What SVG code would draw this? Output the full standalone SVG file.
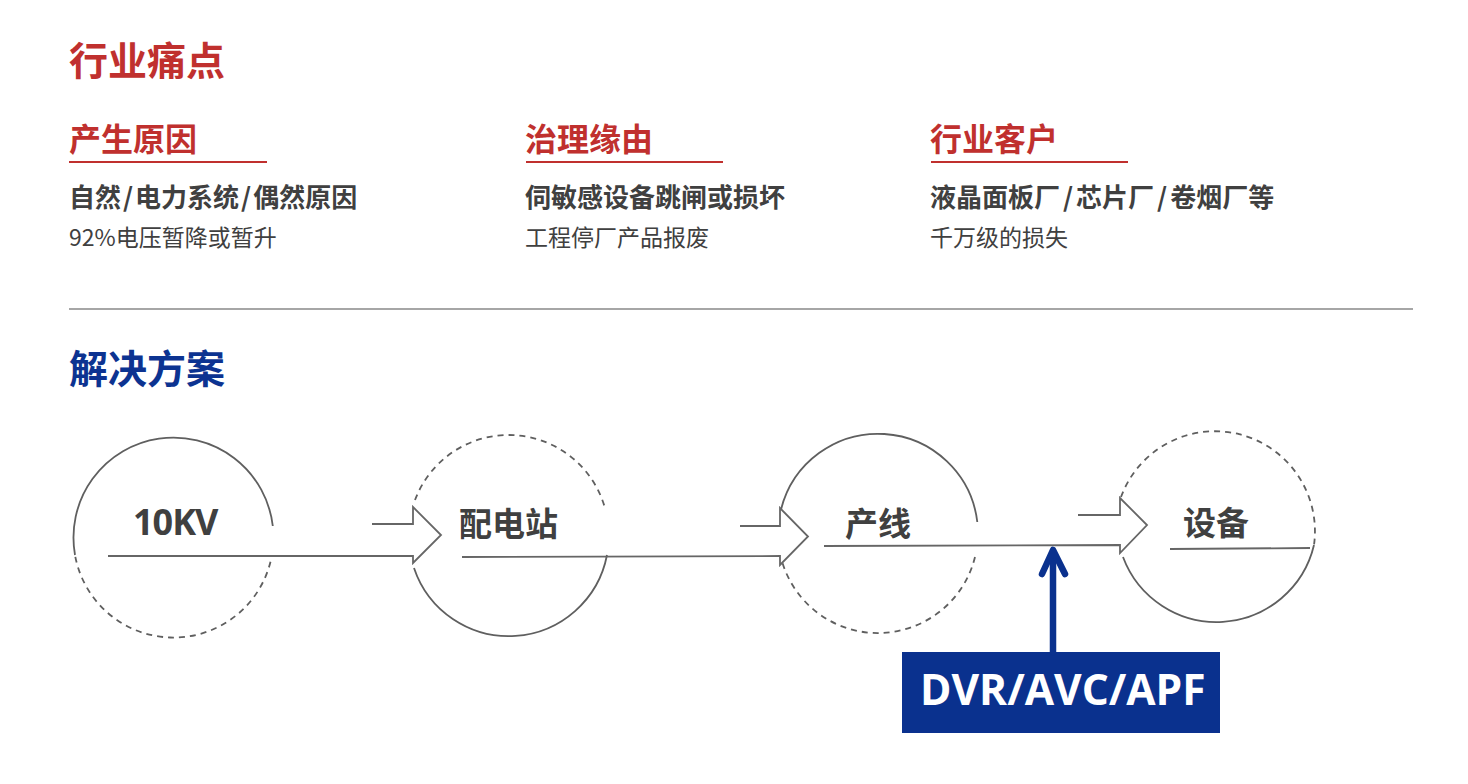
<svg xmlns="http://www.w3.org/2000/svg" width="1468" height="784" viewBox="0 0 1468 784">
<style>
.cjk{font-family:"Noto Sans CJK SC","Noto Sans",sans-serif}
.lat{font-family:"Open Sans","Noto Sans CJK SC",sans-serif}
.b{font-weight:bold}
.red{fill:#c0302e}
.blue{fill:#0c3391}
.dark{fill:#404040}
.uline{stroke:#c0302e;stroke-width:2}
.solid{fill:none;stroke:#5f5f5f;stroke-width:1.8}
.dash{fill:none;stroke:#5f5f5f;stroke-width:1.8;stroke-dasharray:6 5}
.conn{fill:none;stroke:#666;stroke-width:1.8;stroke-linejoin:miter}
</style>
<rect width="1468" height="784" fill="#ffffff"/>
<g id="header">
<text x="69" y="75" class="cjk b red" font-size="39">行业痛点</text>
<text x="69" y="151" class="cjk b red" font-size="32">产生原因</text>
<text x="525" y="151" class="cjk b red" font-size="32">治理缘由</text>
<text x="930" y="151" class="cjk b red" font-size="32">行业客户</text>
<line x1="69" y1="162" x2="267" y2="162" class="uline"/>
<line x1="526" y1="162" x2="723" y2="162" class="uline"/>
<line x1="931" y1="162" x2="1128" y2="162" class="uline"/>
<text x="69" y="207" class="cjk b dark" font-size="26">自然<tspan dx="2">/</tspan><tspan dx="2">电力系统</tspan><tspan dx="2">/</tspan><tspan dx="2">偶然原因</tspan></text>
<text x="525" y="207" class="cjk b dark" font-size="26">伺敏感设备跳闸或损坏</text>
<text x="930" y="207" class="cjk b dark" font-size="26">液晶面板厂<tspan dx="3">/</tspan><tspan dx="3">芯片厂</tspan><tspan dx="3">/</tspan><tspan dx="3">卷烟厂等</tspan></text>
<text x="69" y="246" class="cjk dark" font-size="23">92%电压暂降或暂升</text>
<text x="525" y="246" class="cjk dark" font-size="23">工程停厂产品报废</text>
<text x="930" y="246" class="cjk dark" font-size="23">千万级的损失</text>
<line x1="69" y1="309" x2="1413" y2="309" stroke="#a6a6a6" stroke-width="2"/>
<text x="69" y="383" class="cjk b blue" font-size="39">解决方案</text>
</g>
<g id="node-10kv">
<path class="solid" d="M 75 555 A 100 100 0 1 1 272.8 526"/>
<path class="dash" d="M 270.5 561.7 A 100 100 0 0 1 75 555"/>
<text x="133" y="535" class="lat b dark" font-size="36" letter-spacing="-1">10KV</text>
</g>
<g id="node-substation">
<path class="dash" d="M 415 500 A 100 100 0 0 1 605.5 510"/>
<path class="solid" d="M 607 555 A 100 100 0 0 1 414 568"/>
<text x="459" y="536" class="cjk b dark" font-size="33">配电站</text>
</g>
<g id="node-line">
<path class="solid" d="M 781 509.5 A 100 100 0 0 1 977.3 522"/>
<path class="dash" d="M 975 557 A 100 100 0 0 1 782.5 563"/>
<text x="845" y="536" class="cjk b dark" font-size="33">产线</text>
</g>
<g id="node-equipment">
<path class="dash" d="M 1121 497 A 100 100 0 0 1 1314 545"/>
<path class="solid" d="M 1314 545 A 100 100 0 0 1 1123 557"/>
<text x="1183" y="535" class="cjk b dark" font-size="33">设备</text>
</g>
<g id="node-dvr">
<rect x="902" y="652" width="318" height="81" fill="#0a318e"/>
<text x="920" y="705" class="lat b" fill="#ffffff" font-size="42.5">DVR/AVC/APF</text>
</g>
<g id="connectors">
<path class="conn" d="M 372 524 L 413 524 L 413 507 L 441 535 L 413 563 L 413 556 L 108 556"/>
<path class="conn" d="M 740 526 L 780 526 L 780 508 L 808 536.5 L 780 565 L 780 556 L 462 557"/>
<path class="conn" d="M 1078 515 L 1120 515 L 1120 498 L 1147 525 L 1120 553 L 1120 545 L 824 546"/>
<line x1="1170" y1="549" x2="1310" y2="548" class="conn"/>
<g stroke="#0a318e" stroke-width="6.5" fill="none" stroke-linecap="round" stroke-linejoin="round">
<line x1="1053" y1="652" x2="1053" y2="552"/>
<polyline points="1042,574 1053,550 1065,574"/>
</g>
</g>
</svg>
